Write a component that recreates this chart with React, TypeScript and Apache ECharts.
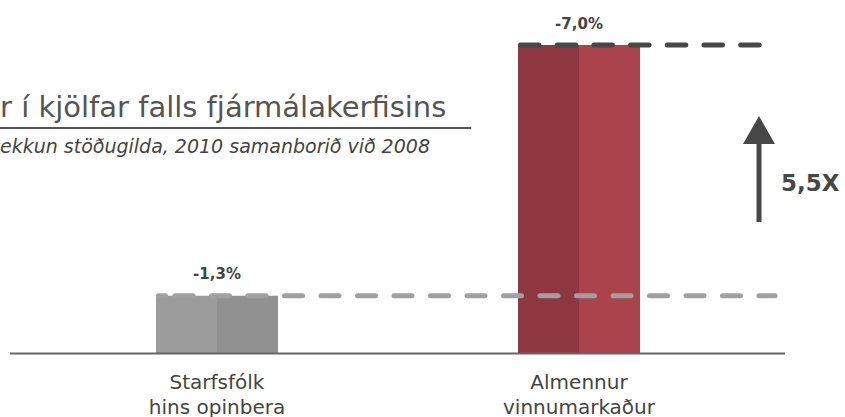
import React, { useEffect, useRef } from "react";
import * as echarts from "echarts";

const categories = ["Starfsfólk\nhins opinbera", "Almennur\nvinnumarkaður"];
const values = [1.3, 7.0];
const valueLabels = ["-1,3%", "-7,0%"];
const leftColors = ["#9c9c9c", "#8f3740"];
const rightColors = ["#919191", "#aa434c"];
const titleText = "r í kjölfar falls fjármálakerfisins";
const subtitleText = "ekkun stöðugilda, 2010 samanborið við 2008";
const ratioText = "5,5X";

const FONT = "'DejaVu Sans', sans-serif";

export default function App() {
  const ref = useRef<HTMLDivElement>(null);
  useEffect(() => {
    if (!ref.current) return;
    const chart = echarts.init(ref.current, undefined, { renderer: "svg" });
    const option: any = {
      animation: false,
      grid: { left: 36, right: 85, top: 45, bottom: 64, containLabel: false, outerBoundsMode: "none" },
      xAxis: {
        type: "category",
        data: categories,
        axisLine: { show: false },
        axisTick: { show: false },
        axisLabel: {
          color: "#444",
          fontSize: 20,
          lineHeight: 25,
          margin: 16,
          fontFamily: FONT,
        },
      },
      yAxis: { type: "value", min: 0, max: 7, show: false, splitLine: { show: false } },
      series: [
        {
          type: "bar",
          barWidth: 61,
          barGap: "0%",
          data: values.map((v, i) => ({ value: v, itemStyle: { color: leftColors[i] } })),
          label: {
            show: true,
            position: "top",
            offset: [30.5, -9],
            formatter: (p: any) => valueLabels[p.dataIndex],
            color: "#444",
            fontSize: 15,
            fontWeight: "bold",
            fontFamily: FONT,
          },
          z: 2,
        },
        {
          type: "bar",
          barWidth: 61,
          barGap: "0%",
          data: values.map((v, i) => ({ value: v, itemStyle: { color: rightColors[i] } })),
          z: 2,
        },
      ],
    };
    chart.setOption(option);

    const base = chart.convertToPixel({ gridIndex: 0 }, [0, 0]) as number[];
    const p0 = chart.convertToPixel({ gridIndex: 0 }, [0, values[0]]) as number[];
    const p1 = chart.convertToPixel({ gridIndex: 0 }, [1, values[1]]) as number[];

    chart.setOption({
      graphic: [
        {
          type: "line",
          shape: { x1: 10, y1: base[1] + 0.5, x2: 785, y2: base[1] + 0.5 },
          style: { stroke: "#666", lineWidth: 2 },
          z: 5,
        },
        {
          type: "line",
          shape: { x1: p0[0] - 61 + 2.5, y1: p0[1], x2: p0[0] - 61 + 9.5, y2: p0[1] },
          style: { stroke: "#a0a0a0", lineWidth: 5, lineCap: "round" },
          z: 10,
        },
        {
          type: "line",
          shape: { x1: p0[0] - 61 + 2.5, y1: p0[1], x2: 775, y2: p0[1] },
          style: {
            stroke: "#a0a0a0",
            lineWidth: 5,
            lineCap: "round",
            lineDash: [18, 18.5],
            lineDashOffset: 19.5,
          },
          z: 10,
        },
        {
          type: "line",
          shape: { x1: p1[0] - 61 + 2.5, y1: p1[1], x2: 765, y2: p1[1] },
          style: { stroke: "#474747", lineWidth: 5, lineCap: "round", lineDash: [18.5, 18.2] },
          z: 10,
        },
        {
          type: "polygon",
          shape: { points: [[759, 116], [743, 144], [775, 144]] },
          style: { fill: "#474747" },
        },
        {
          type: "rect",
          shape: { x: 756.5, y: 143, width: 5, height: 79 },
          style: { fill: "#474747" },
        },
        {
          type: "text",
          x: 781,
          y: 183,
          style: {
            text: ratioText,
            fill: "#474747",
            fontSize: 23,
            fontWeight: "bold",
            fontFamily: FONT,
            verticalAlign: "middle",
          },
        },
        {
          type: "text",
          x: 0,
          y: 107,
          style: {
            text: titleText,
            fill: "#555",
            fontSize: 29,
            fontFamily: FONT,
            verticalAlign: "middle",
          },
        },
        {
          type: "rect",
          shape: { x: 0, y: 127, width: 471, height: 2 },
          style: { fill: "#555" },
        },
        {
          type: "text",
          x: 0,
          y: 146,
          style: {
            text: subtitleText,
            fill: "#444",
            fontSize: 19,
            fontStyle: "italic",
            fontFamily: FONT,
            verticalAlign: "middle",
          },
        },
      ],
    });

    return () => chart.dispose();
  }, []);
  return <div ref={ref} style={{ width: 845, height: 417, position: "absolute", left: 0, top: 0 }} />;
}
